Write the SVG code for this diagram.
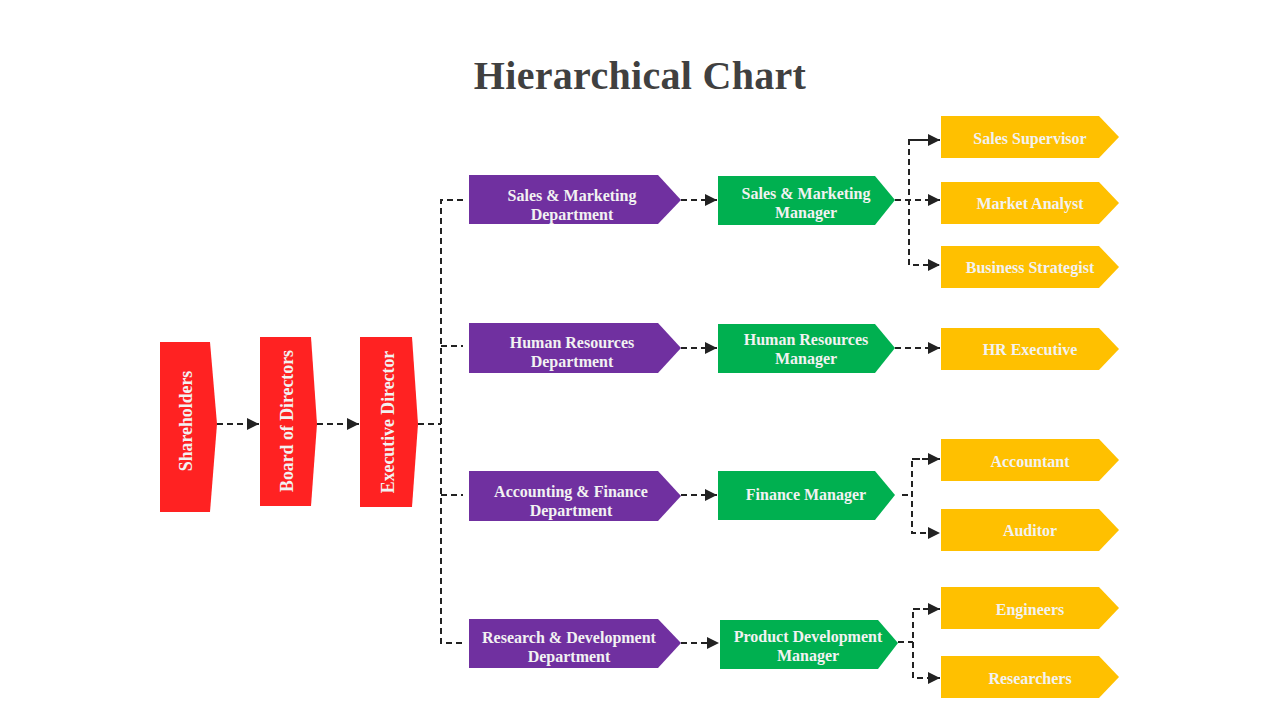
<svg xmlns="http://www.w3.org/2000/svg" width="1280" height="720" viewBox="0 0 1280 720">
<defs>
<style>
.t{font-family:"Liberation Serif","DejaVu Serif",serif;font-weight:bold;font-size:16px;fill:#F2F2F2;text-anchor:middle}
.v{font-size:17.8px}
.title{font-family:"Liberation Serif","DejaVu Serif",serif;font-weight:bold;font-size:40px;fill:#404040;text-anchor:middle;letter-spacing:0.3px}
.red{fill:#FF2222}
.pur{fill:#7030A0}
.grn{fill:#00B050}
.yel{fill:#FFC000}
.c{fill:none;stroke:#222;stroke-width:2;stroke-dasharray:6 4}
</style>
<marker id="ah" viewBox="0 0 12 12" refX="12" refY="6" markerWidth="12" markerHeight="12" markerUnits="userSpaceOnUse" orient="auto">
<path d="M0,0 L12,6 L0,12 Z" fill="#222"/>
</marker>
</defs>
<rect width="1280" height="720" fill="#fff"/>
<text class="title" x="640" y="89">Hierarchical Chart</text>

<g id="connectors">
<path class="c" d="M217,424 H259" marker-end="url(#ah)"/>
<path class="c" d="M317,424 H359" marker-end="url(#ah)"/>
<path class="c" d="M418,424 H441"/>
<path class="c" d="M463,200 H441 V643 H463"/>
<path class="c" d="M441,346 H463"/>
<path class="c" d="M441,495 H463"/>
<path class="c" d="M681,200 H717" marker-end="url(#ah)"/>
<path class="c" d="M681,348 H717" marker-end="url(#ah)"/>
<path class="c" d="M681,495 H717" marker-end="url(#ah)"/>
<path class="c" d="M681,643 H719" marker-end="url(#ah)"/>
<path class="c" d="M895,200 H940" marker-end="url(#ah)"/>
<path class="c" d="M940,140 H909 V265 H940" marker-end="url(#ah)"/>
<path class="c" d="M909,140 H940" marker-end="url(#ah)"/>
<path class="c" d="M895,348 H940" marker-end="url(#ah)"/>
<path class="c" d="M902,495 H912"/>
<path class="c" d="M940,459 H912 V533 H940" marker-end="url(#ah)"/>
<path class="c" d="M912,459 H940" marker-end="url(#ah)"/>
<path class="c" d="M898,642 H913"/>
<path class="c" d="M940,609 H913 V678 H940" marker-end="url(#ah)"/>
<path class="c" d="M913,609 H940" marker-end="url(#ah)"/>
</g>

<g id="shareholders">
<path class="red" d="M160,342 H210 L217,424 L210,512 H160 Z"/>
<text class="t v" transform="translate(192,421) rotate(-90)">Shareholders</text>
</g>
<g id="board">
<path class="red" d="M260,337 H311 L317,424 L311,506 H260 Z"/>
<text class="t v" transform="translate(293,421) rotate(-90)">Board of Directors</text>
</g>
<g id="executive">
<path class="red" d="M360,337 H412 L418,424 L412,507 H360 Z"/>
<text class="t v" transform="translate(394,422) rotate(-90)">Executive Director</text>
</g>

<g id="sales-dept">
<path class="pur" d="M469,175 H658 L681,200 L658,224 H469 Z"/>
<text class="t" x="572" y="201">Sales &amp; Marketing</text>
<text class="t" x="572" y="220">Department</text>
</g>
<g id="hr-dept">
<path class="pur" d="M469,323 H658 L681,348 L658,373 H469 Z"/>
<text class="t" x="572" y="348">Human Resources</text>
<text class="t" x="572" y="367">Department</text>
</g>
<g id="acc-dept">
<path class="pur" d="M469,471 H658 L681,496 L658,521 H469 Z"/>
<text class="t" x="571" y="497">Accounting &amp; Finance</text>
<text class="t" x="571" y="516">Department</text>
</g>
<g id="rd-dept">
<path class="pur" d="M469,619 H658 L681,643 L658,668 H469 Z"/>
<text class="t" x="569" y="643">Research &amp; Development</text>
<text class="t" x="569" y="662">Department</text>
</g>

<g id="sales-mgr">
<path class="grn" d="M718,176 H875 L895,200 L875,225 H718 Z"/>
<text class="t" x="806" y="199">Sales &amp; Marketing</text>
<text class="t" x="806" y="218">Manager</text>
</g>
<g id="hr-mgr">
<path class="grn" d="M718,324 H875 L895,348 L875,373 H718 Z"/>
<text class="t" x="806" y="345">Human Resources</text>
<text class="t" x="806" y="364">Manager</text>
</g>
<g id="fin-mgr">
<path class="grn" d="M718,471 H875 L895,495 L875,520 H718 Z"/>
<text class="t" x="806" y="500">Finance Manager</text>
</g>
<g id="pd-mgr">
<path class="grn" d="M720,620 H878 L898,643 L878,669 H720 Z"/>
<text class="t" x="808" y="642">Product Development</text>
<text class="t" x="808" y="661">Manager</text>
</g>

<g id="sales-supervisor">
<path class="yel" d="M941,116 H1099 L1119,137 L1099,158 H941 Z"/>
<text class="t" x="1030" y="144">Sales Supervisor</text>
</g>
<g id="market-analyst">
<path class="yel" d="M941,182 H1099 L1119,203 L1099,224 H941 Z"/>
<text class="t" x="1030" y="209">Market Analyst</text>
</g>
<g id="business-strategist">
<path class="yel" d="M941,246 H1099 L1119,267 L1099,288 H941 Z"/>
<text class="t" x="1030" y="273">Business Strategist</text>
</g>
<g id="hr-executive">
<path class="yel" d="M941,328 H1099 L1119,349 L1099,370 H941 Z"/>
<text class="t" x="1030" y="355">HR Executive</text>
</g>
<g id="accountant">
<path class="yel" d="M941,439 H1099 L1119,460 L1099,481 H941 Z"/>
<text class="t" x="1030" y="467">Accountant</text>
</g>
<g id="auditor">
<path class="yel" d="M941,509 H1099 L1119,530 L1099,551 H941 Z"/>
<text class="t" x="1030" y="536">Auditor</text>
</g>
<g id="engineers">
<path class="yel" d="M941,587 H1099 L1119,608 L1099,629 H941 Z"/>
<text class="t" x="1030" y="615">Engineers</text>
</g>
<g id="researchers">
<path class="yel" d="M941,656 H1099 L1119,677 L1099,698 H941 Z"/>
<text class="t" x="1030" y="684">Researchers</text>
</g>
</svg>
